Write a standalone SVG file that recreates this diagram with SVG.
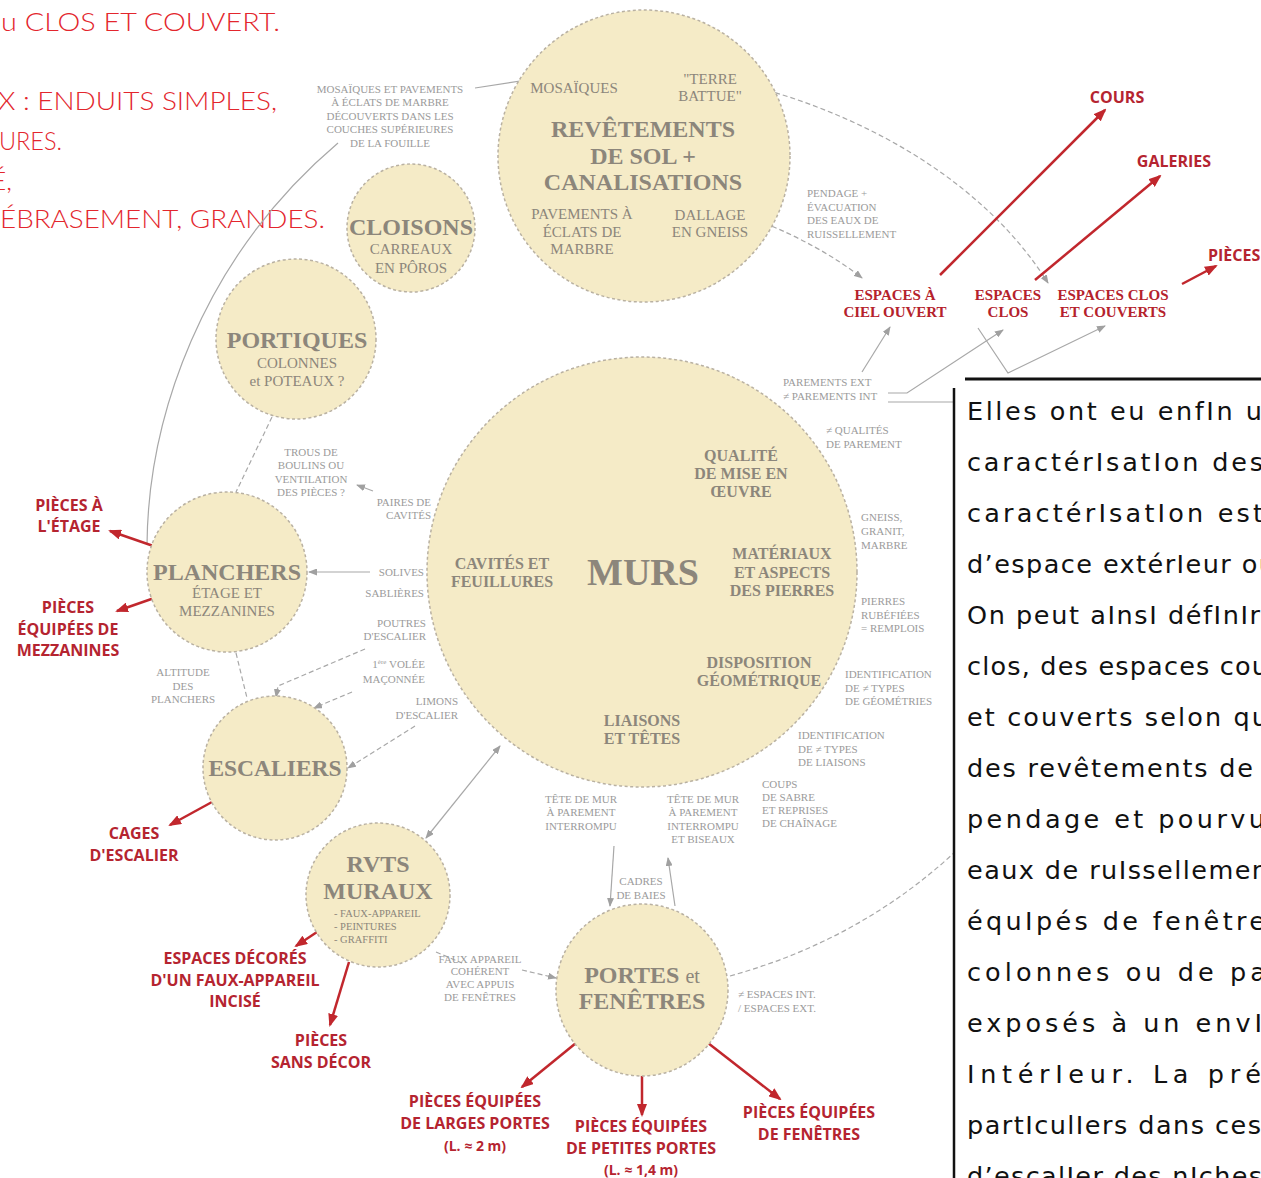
<svg xmlns="http://www.w3.org/2000/svg" width="1261" height="1178" viewBox="0 0 1261 1178">
<defs>
<style>
.nc{fill:#f5ebc7;stroke:#b9b1a2;stroke-width:1.5;stroke-dasharray:3 2.5}
.t{font-family:"Liberation Serif",serif;fill:#8c867b;text-anchor:middle;font-size:15px}
.tb{font-weight:bold;font-size:24px}
.tm{font-weight:bold;font-size:16px}
.ts{font-size:10.5px;text-anchor:start}
.a{font-family:"Liberation Serif",serif;font-size:11px;fill:#9b9b9b}
.am{text-anchor:middle}
.ae{text-anchor:end}
.r{font-family:"Open Sans",sans-serif;font-weight:bold;font-size:16px;fill:#b52430;text-anchor:middle}
.rsm{font-size:14px}
.rst{text-anchor:start}
.rs{font-family:"Liberation Serif",serif;font-weight:bold;font-size:15px;fill:#b5222c;text-anchor:middle}
.c{fill:none;stroke:#a8a8a8;stroke-width:1.2}
.cd{stroke-dasharray:5 3}
.rl{fill:none;stroke:#c1272d;stroke-width:2.5}
.tl{font-family:Lato,"Liberation Sans",sans-serif;font-weight:300;font-size:25px;fill:#e3262d}
.p{font-family:"DejaVu Sans",sans-serif;font-size:25.5px;fill:#111}
</style>
<marker id="ga" markerUnits="userSpaceOnUse" markerWidth="9" markerHeight="7" refX="8" refY="3.5" orient="auto"><path d="M0,0 L9,3.5 L0,7 z" fill="#a0a0a0"/></marker>
<marker id="gs" markerUnits="userSpaceOnUse" markerWidth="9" markerHeight="7" refX="1" refY="3.5" orient="auto"><path d="M9,0 L0,3.5 L9,7 z" fill="#a0a0a0"/></marker>
<marker id="ra" markerUnits="userSpaceOnUse" markerWidth="13" markerHeight="10" refX="11" refY="5" orient="auto"><path d="M0,0 L13,5 L0,10 z" fill="#c1272d"/></marker>
</defs>
<rect width="1261" height="1178" fill="#fff"/>

<g id="intro-text">
<text class="tl" x="-15" y="31" textLength="295" lengthAdjust="spacingAndGlyphs">ou CLOS ET COUVERT.</text>
<text class="tl" x="-2" y="110" textLength="279" lengthAdjust="spacingAndGlyphs">X : ENDUITS SIMPLES,</text>
<text class="tl" x="-1" y="150" textLength="63" lengthAdjust="spacingAndGlyphs">URES.</text>
<text class="tl" x="-9" y="190" textLength="21" lengthAdjust="spacingAndGlyphs">É,</text>
<text class="tl" x="0" y="228" textLength="325" lengthAdjust="spacingAndGlyphs">ÉBRASEMENT, GRANDES.</text>
</g>

<g id="connectors">
<path class="c" d="M147,545 C148,420 200,260 338,143"/>
<path class="c" d="M475,88 L540,78"/>
<path class="c cd" d="M752,86 C880,120 990,190 1048,283" marker-end="url(#ga)"/>
<path class="c cd" d="M757,220 Q820,245 862,278" marker-end="url(#ga)"/>
<path class="c" d="M862,372 L890,327" marker-end="url(#ga)"/>
<path class="c" d="M888,393 L907,393 L1003,330" marker-end="url(#ga)"/>
<path class="c" d="M888,402 L954,402"/>
<path class="c" d="M978,328 L1008,373 L1105,326" marker-end="url(#ga)"/>
<path class="c cd" d="M272,417 L236,492"/>
<path class="c" d="M373,491 L357,485" marker-end="url(#ga)"/>
<path class="c" d="M370,572 L309,572" marker-end="url(#ga)"/>
<path class="c cd" d="M236,653 L247,698"/>
<path class="c cd" d="M365,649 L278,686 L276,697" marker-end="url(#ga)"/>
<path class="c cd" d="M352,692 L314,708" marker-end="url(#ga)"/>
<path class="c cd" d="M415,726 L348,768" marker-end="url(#ga)"/>
<path class="c" d="M426,838 L500,746" marker-end="url(#ga)" marker-start="url(#gs)"/>
<path class="c" d="M614,846 L610,906" marker-end="url(#ga)"/>
<path class="c" d="M675,906 L668,858" marker-end="url(#ga)"/>
<path class="c cd" d="M436,952 L462,963"/>
<path class="c cd" d="M522,970 L556,978" marker-end="url(#ga)"/>
<path class="c cd" d="M730,976 Q860,940 955,852"/>
<path class="rl" d="M940,275 L1105,110" marker-end="url(#ra)"/>
<path class="rl" d="M1035,280 L1160,176" marker-end="url(#ra)"/>
<path class="rl" d="M1182,284 L1216,266" marker-end="url(#ra)"/>
<path class="rl" d="M188,558 L110,531" marker-end="url(#ra)"/>
<path class="rl" d="M183,588 L117,611" marker-end="url(#ra)"/>
<path class="rl" d="M212,802 L170,825" marker-end="url(#ra)"/>
<path class="rl" d="M320,930 L296,946" marker-end="url(#ra)"/>
<path class="rl" d="M349,962 L330,1025" marker-end="url(#ra)"/>
<path class="rl" d="M576,1043 L522,1087" marker-end="url(#ra)"/>
<path class="rl" d="M642,1074 L642,1115" marker-end="url(#ra)"/>
<path class="rl" d="M708,1043 L780,1099" marker-end="url(#ra)"/>
</g>

<g id="revetements">
<circle class="nc" cx="644" cy="156" r="146"/>
<text class="t" x="574" y="93">MOSAÏQUES</text>
<text class="t" x="710" y="84">"TERRE</text>
<text class="t" x="710" y="101">BATTUE"</text>
<text class="t tb" x="643" y="137">REVÊTEMENTS</text>
<text class="t tb" x="643" y="164">DE SOL +</text>
<text class="t tb" x="643" y="190">CANALISATIONS</text>
<text class="t" x="582" y="219">PAVEMENTS À</text>
<text class="t" x="582" y="237">ÉCLATS DE</text>
<text class="t" x="582" y="254">MARBRE</text>
<text class="t" x="710" y="220">DALLAGE</text>
<text class="t" x="710" y="237">EN GNEISS</text>
</g>

<g id="cloisons">
<circle class="nc" cx="411" cy="228" r="64"/>
<text class="t tb" x="411" y="235">CLOISONS</text>
<text class="t" x="411" y="254">CARREAUX</text>
<text class="t" x="411" y="273">EN PÔROS</text>
</g>

<g id="portiques">
<circle class="nc" cx="296" cy="339" r="80"/>
<text class="t tb" x="297" y="348">PORTIQUES</text>
<text class="t" x="297" y="368">COLONNES</text>
<text class="t" x="297" y="386">et POTEAUX ?</text>
</g>

<g id="murs">
<circle class="nc" cx="642" cy="572" r="215"/>
<text class="t" x="643" y="585" style="font-weight:bold;font-size:38px">MURS</text>
<text class="t tm" x="502" y="569">CAVITÉS ET</text>
<text class="t tm" x="502" y="587">FEUILLURES</text>
<text class="t tm" x="741" y="461">QUALITÉ</text>
<text class="t tm" x="741" y="479">DE MISE EN</text>
<text class="t tm" x="741" y="497">ŒUVRE</text>
<text class="t tm" x="782" y="559">MATÉRIAUX</text>
<text class="t tm" x="782" y="578">ET ASPECTS</text>
<text class="t tm" x="782" y="596">DES PIERRES</text>
<text class="t tm" x="759" y="668">DISPOSITION</text>
<text class="t tm" x="759" y="686">GÉOMÉTRIQUE</text>
<text class="t tm" x="642" y="726">LIAISONS</text>
<text class="t tm" x="642" y="744">ET TÊTES</text>
</g>

<g id="planchers">
<circle class="nc" cx="227" cy="572" r="80"/>
<text class="t tb" x="227" y="580">PLANCHERS</text>
<text class="t" x="227" y="598">ÉTAGE ET</text>
<text class="t" x="227" y="616">MEZZANINES</text>
</g>

<g id="escaliers">
<circle class="nc" cx="275" cy="768" r="72"/>
<text class="t tb" x="275" y="776" style="font-size:23.5px">ESCALIERS</text>
</g>

<g id="rvts-muraux">
<circle class="nc" cx="378" cy="895" r="72"/>
<text class="t tb" x="378" y="872">RVTS</text>
<text class="t tb" x="378" y="899">MURAUX</text>
<text class="t ts" x="334" y="917">- FAUX-APPAREIL</text>
<text class="t ts" x="334" y="930">- PEINTURES</text>
<text class="t ts" x="334" y="943">- GRAFFITI</text>
</g>

<g id="portes-fenetres">
<circle class="nc" cx="642" cy="990" r="86"/>
<text class="t tb" x="642" y="983">PORTES <tspan style="font-weight:normal;font-size:20px">et</tspan></text>
<text class="t tb" x="642" y="1009">FENÊTRES</text>
</g>

<g id="annotations">
<text class="a am" x="390" y="93">MOSAÏQUES ET PAVEMENTS</text>
<text class="a am" x="390" y="106">À ÉCLATS DE MARBRE</text>
<text class="a am" x="390" y="120">DÉCOUVERTS DANS LES</text>
<text class="a am" x="390" y="133">COUCHES SUPÉRIEURES</text>
<text class="a am" x="390" y="147">DE LA FOUILLE</text>
<text class="a" x="807" y="197">PENDAGE +</text>
<text class="a" x="807" y="211">ÉVACUATION</text>
<text class="a" x="807" y="224">DES EAUX DE</text>
<text class="a" x="807" y="238">RUISSELLEMENT</text>
<text class="a" x="783" y="386">PAREMENTS EXT</text>
<text class="a" x="783" y="400">≠ PAREMENTS INT</text>
<text class="a" x="826" y="434">≠ QUALITÉS</text>
<text class="a" x="826" y="448">DE PAREMENT</text>
<text class="a" x="861" y="521">GNEISS,</text>
<text class="a" x="861" y="535">GRANIT,</text>
<text class="a" x="861" y="549">MARBRE</text>
<text class="a" x="861" y="605">PIERRES</text>
<text class="a" x="861" y="619">RUBÉFIÉES</text>
<text class="a" x="861" y="632">= REMPLOIS</text>
<text class="a" x="845" y="678">IDENTIFICATION</text>
<text class="a" x="845" y="692">DE ≠ TYPES</text>
<text class="a" x="845" y="705">DE GÉOMÉTRIES</text>
<text class="a" x="798" y="739">IDENTIFICATION</text>
<text class="a" x="798" y="753">DE ≠ TYPES</text>
<text class="a" x="798" y="766">DE LIAISONS</text>
<text class="a" x="762" y="788">COUPS</text>
<text class="a" x="762" y="801">DE SABRE</text>
<text class="a" x="762" y="814">ET REPRISES</text>
<text class="a" x="762" y="827">DE CHAÎNAGE</text>
<text class="a am" x="581" y="803">TÊTE DE MUR</text>
<text class="a am" x="581" y="816">À PAREMENT</text>
<text class="a am" x="581" y="830">INTERROMPU</text>
<text class="a am" x="703" y="803">TÊTE DE MUR</text>
<text class="a am" x="703" y="816">À PAREMENT</text>
<text class="a am" x="703" y="830">INTERROMPU</text>
<text class="a am" x="703" y="843">ET BISEAUX</text>
<text class="a am" x="641" y="885">CADRES</text>
<text class="a am" x="641" y="899">DE BAIES</text>
<text class="a am" x="480" y="963">FAUX APPAREIL</text>
<text class="a am" x="480" y="975">COHÉRENT</text>
<text class="a am" x="480" y="988">AVEC APPUIS</text>
<text class="a am" x="480" y="1001">DE FENÊTRES</text>
<text class="a" x="738" y="998">≠ ESPACES INT.</text>
<text class="a" x="738" y="1012">/ ESPACES EXT.</text>
<text class="a am" x="311" y="456">TROUS DE</text>
<text class="a am" x="311" y="469">BOULINS OU</text>
<text class="a am" x="311" y="483">VENTILATION</text>
<text class="a am" x="311" y="496">DES PIÈCES ?</text>
<text class="a ae" x="431" y="506">PAIRES DE</text>
<text class="a ae" x="431" y="519">CAVITÉS</text>
<text class="a ae" x="424" y="576">SOLIVES</text>
<text class="a ae" x="424" y="597">SABLIÈRES</text>
<text class="a ae" x="426" y="627">POUTRES</text>
<text class="a ae" x="426" y="640">D'ESCALIER</text>
<text class="a ae" x="425" y="668">1<tspan style="font-size:7px" dy="-4">ère</tspan><tspan dy="4"> VOLÉE</tspan></text>
<text class="a ae" x="425" y="683">MAÇONNÉE</text>
<text class="a ae" x="458" y="705">LIMONS</text>
<text class="a ae" x="458" y="719">D'ESCALIER</text>
<text class="a am" x="183" y="676">ALTITUDE</text>
<text class="a am" x="183" y="690">DES</text>
<text class="a am" x="183" y="703">PLANCHERS</text>
</g>

<g id="space-labels">
<text class="rs" x="895" y="300">ESPACES À</text>
<text class="rs" x="895" y="317">CIEL OUVERT</text>
<text class="rs" x="1008" y="300">ESPACES</text>
<text class="rs" x="1008" y="317">CLOS</text>
<text class="rs" x="1113" y="300">ESPACES CLOS</text>
<text class="rs" x="1113" y="317">ET COUVERTS</text>
<text class="r" x="1117" y="103">COURS</text>
<text class="r" x="1174" y="167">GALERIES</text>
<text class="r rst" x="1208" y="261">PIÈCES</text>
</g>

<g id="room-labels">
<text class="r" x="69" y="511">PIÈCES À</text>
<text class="r" x="69" y="532">L'ÉTAGE</text>
<text class="r" x="68" y="613">PIÈCES</text>
<text class="r" x="68" y="635">ÉQUIPÉES DE</text>
<text class="r" x="68" y="656">MEZZANINES</text>
<text class="r" x="134" y="839">CAGES</text>
<text class="r" x="134" y="861">D'ESCALIER</text>
<text class="r" x="235" y="964">ESPACES DÉCORÉS</text>
<text class="r" x="235" y="986">D'UN FAUX-APPAREIL</text>
<text class="r" x="235" y="1007">INCISÉ</text>
<text class="r" x="321" y="1046">PIÈCES</text>
<text class="r" x="321" y="1068">SANS DÉCOR</text>
<text class="r" x="475" y="1107">PIÈCES ÉQUIPÉES</text>
<text class="r" x="475" y="1129">DE LARGES PORTES</text>
<text class="r rsm" x="475" y="1151">(L. ≈ 2 m)</text>
<text class="r" x="641" y="1132">PIÈCES ÉQUIPÉES</text>
<text class="r" x="641" y="1154">DE PETITES PORTES</text>
<text class="r rsm" x="641" y="1175">(L. ≈ 1,4 m)</text>
<text class="r" x="809" y="1118">PIÈCES ÉQUIPÉES</text>
<text class="r" x="809" y="1140">DE FENÊTRES</text>
</g>

<g id="text-box">
<rect x="954" y="380" width="320" height="810" fill="#fff"/>
<line x1="965" y1="379" x2="1261" y2="379" stroke="#111" stroke-width="3"/>
<line x1="954" y1="388" x2="954" y2="1178" stroke="#111" stroke-width="2.5"/>
<text class="p" x="967" y="420" textLength="295" lengthAdjust="spacing">Elles ont eu enfIn u</text>
<text class="p" x="967" y="471" textLength="296" lengthAdjust="spacing">caractérIsatIon des</text>
<text class="p" x="967" y="522" textLength="296" lengthAdjust="spacing">caractérIsatIon est</text>
<text class="p" x="967" y="573" textLength="308" lengthAdjust="spacing">d’espace extérIeur ou</text>
<text class="p" x="967" y="624" textLength="293" lengthAdjust="spacing">On peut aInsI défInIr</text>
<text class="p" x="967" y="675" textLength="301" lengthAdjust="spacing">clos, des espaces cou</text>
<text class="p" x="967" y="726" textLength="301" lengthAdjust="spacing">et couverts selon qu</text>
<text class="p" x="967" y="777" textLength="286" lengthAdjust="spacing">des revêtements de</text>
<text class="p" x="967" y="828" textLength="298" lengthAdjust="spacing">pendage et pourvu</text>
<text class="p" x="967" y="879" textLength="301" lengthAdjust="spacing">eaux de ruIssellemen</text>
<text class="p" x="967" y="930" textLength="298" lengthAdjust="spacing">équIpés de fenêtre</text>
<text class="p" x="967" y="981" textLength="299" lengthAdjust="spacing">colonnes ou de pa</text>
<text class="p" x="967" y="1032" textLength="295" lengthAdjust="spacing">exposés à un envI</text>
<text class="p" x="967" y="1083" textLength="294" lengthAdjust="spacing">IntérIeur. La pré</text>
<text class="p" x="967" y="1134" textLength="294" lengthAdjust="spacing">partIculIers dans ces</text>
<text class="p" x="967" y="1185" textLength="295" lengthAdjust="spacing">d’escalIer des nIches</text>
</g>
</svg>
